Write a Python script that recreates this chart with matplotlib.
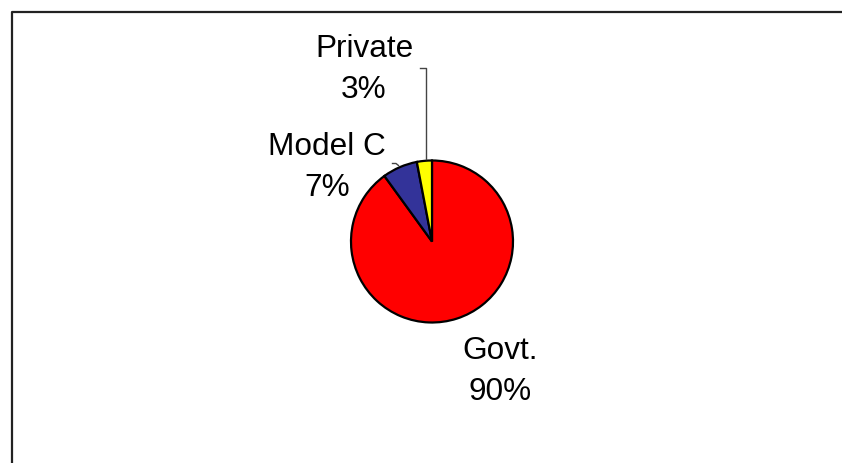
import matplotlib
matplotlib.use("Agg")
import matplotlib.pyplot as plt

# School type shares
categories = ["Govt.", "Model C", "Private"]
shares = [90, 7, 3]
colors = ["#FF0000", "#333399", "#FFFF00"]

W, H = 842, 463
fig = plt.figure(figsize=(W / 100, H / 100), dpi=100)
ax = fig.add_axes([0, 0, 1, 1])
ax.set_xlim(0, W)
ax.set_ylim(0, H)
ax.set_aspect("equal")
ax.axis("off")

def py(y):
    # convert a top-down pixel row to axis units
    return H - y

# chart-area frame (runs off the right and bottom edges)
ax.plot([11.5, 11.5, W + 5], [py(H + 5), py(11.5), py(11.5)],
        color="#222222", lw=1.6, solid_capstyle="butt", clip_on=False)

cx, cy, r = 432, 241.5, 81
ax.pie(shares, colors=colors, startangle=90, counterclock=False,
       center=(cx, py(cy)), radius=r, frame=True,
       wedgeprops=dict(edgecolor="black", linewidth=1.6))
ax.set_xlim(0, W)
ax.set_ylim(0, H)
ax.axis("off")

font = dict(family=["Liberation Sans", "DejaVu Sans"], fontsize=22.7, color="black")
label_pos = {
    "Govt.": (500, 359, 400),
    "Model C": (327, 155, 196),
    "Private": (364, 57, 98),
}
for name, val in zip(categories, shares):
    x, y1, y2 = label_pos[name]
    ax.text(x, py(y1), name, ha="center", va="baseline", **font)
    ax.text(x, py(y2), f"{val}%", ha="center", va="baseline", **font)

# leader lines
ax.plot([420, 425.5, 425.5], [py(67.5), py(67.5), py(159)], color="#444444", lw=1.0)
ax.plot([392.5, 396, 398.5], [py(163.5), py(163.5), py(165.5)], color="#444444", lw=1.0)

fig.savefig("out.png", dpi=100, facecolor="white")
